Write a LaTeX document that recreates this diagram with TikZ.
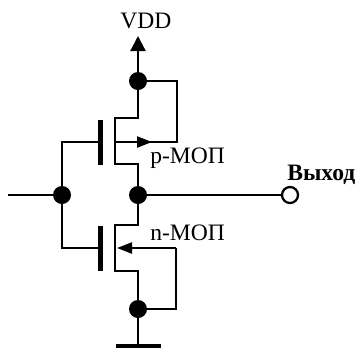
\documentclass[tikz,border=0pt]{standalone}
\usepackage{fontspec}
\setmainfont{Liberation Serif}
\usetikzlibrary{arrows.meta}

\tikzset{
    wire/.style={line width=0.45mm,line join=miter},
    gatebar/.style={line width=1mm},
    groundbar/.style={line width=0.9mm},
    junction/.style={circle,fill=black,inner sep=0pt,minimum size=3.6mm},
    outpin/.style={circle,draw=black,line width=0.45mm,fill=white,inner sep=0pt,minimum size=3.2mm},
    tag/.style={inner sep=0pt,font=\fontsize{13.4}{15}\selectfont},
    bigtip/.style={-{Triangle[width=3mm,length=3mm]}},
    smalltip/.style={-{Triangle[width=2.2mm,length=3mm]}}
}

\begin{document}
\begin{tikzpicture}[x=0.2mm,y=-0.2mm]
        \useasboundingbox (0,0) rectangle (356,348);

        \coordinate (VDD) at (138,36);
        \coordinate (INL) at (8,195);
        \coordinate (PTOP) at (115,118);
        \coordinate (PBOT) at (115,164);
        \coordinate (PMID) at (115,142);
        \coordinate (PTIP) at (152,142);
        \coordinate (PBODY) at (177,142);
        \coordinate (PGL) at (100,120);
        \coordinate (PGH) at (100,165);
        \coordinate (PIN) at (98,142);
        \coordinate (NTOP) at (115,225);
        \coordinate (NBOT) at (115,271);
        \coordinate (NMID) at (117,248);
        \coordinate (NBODY) at (176,248);
        \coordinate (NGL) at (100,226);
        \coordinate (NGH) at (100,271);
        \coordinate (NIN) at (98,248);
        \coordinate (GND) at (138,346);
        \coordinate (GNDL) at (116,346);
        \coordinate (GNDR) at (161,346);

        \node[junction] (top) at (138,81) {};
        \node[junction] (input) at (62,195) {};
        \node[junction] (mid) at (138,195) {};
        \node[junction] (bot) at (138,309) {};
        \node[outpin] (out) at (290,195) {};

        \draw[wire,bigtip] (top) -- (VDD);
        \draw[wire] (top) -- (138,118) -- (PTOP) -- (PBOT) -- (138,164) -- (mid);
        \draw[wire] (mid) -- (138,225) -- (NTOP) -- (NBOT) -- (138,271) -- (bot);
        \draw[wire] (bot) -- (GND);
        \draw[wire] (INL) -- (input);
        \draw[wire] (mid) -- (out);

        \draw[wire] (input) |- (PIN);
        \draw[wire] (input) |- (NIN);
        \draw[gatebar] (PGL) -- (PGH);
        \draw[gatebar] (NGL) -- (NGH);
        \draw[groundbar] (GNDL) -- (GNDR);

        \draw[wire,smalltip] (PMID) -- (PTIP);
        \draw[wire] (PMID) -- (PBODY) |- (top);
        \draw[wire,smalltip] (NBODY) -- (NMID);
        \draw[wire] (NBODY) |- (bot);

        \node[tag,anchor=base] (vddtext) at (146,28) {VDD};
        \node[tag,anchor=base west] (ptext) at (150,163) {p-МОП};
        \node[tag,anchor=base west] (ntext) at (150,240) {n-МОП};
        \node[tag,anchor=base west,font=\fontsize{13.4}{15}\selectfont\bfseries] (outtext) at (287,180) {Выход};
    \end{tikzpicture}
\end{document}
